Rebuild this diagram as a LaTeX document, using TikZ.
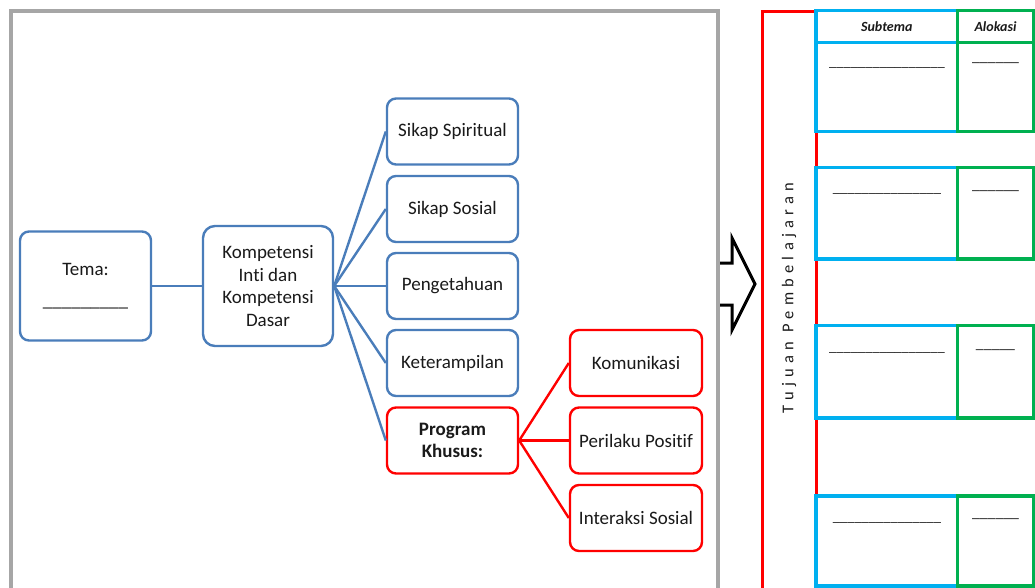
\documentclass[tikz,border=0pt]{standalone}
\usepackage{fontspec}
\setmainfont{Carlito}[Ligatures=NoCommon]
\definecolor{kblue}{HTML}{4A7DBA}
\definecolor{kred}{HTML}{FF0000}
\definecolor{cblue}{HTML}{00B0F0}
\definecolor{cgreen}{HTML}{00B050}
\definecolor{fgray}{HTML}{A6A6A6}
\definecolor{ktext}{HTML}{1A1A1A}
\tikzset{
  boxbase/.style={rectangle, line width=2.4pt, rounded corners=9pt, fill=white,
    inner sep=0pt, align=center, text=ktext, font=\fontsize{19}{22.5}\selectfont},
  bluebox/.style={boxbase, draw=kblue, minimum width=131pt, minimum height=66pt},
  redbox/.style={boxbase, draw=kred, minimum width=132pt, minimum height=66pt},
  blueline/.style={draw=kblue, line width=2.4pt},
  redline/.style={draw=kred, line width=2.4pt},
  frameline/.style={draw=fgray, line width=4pt},
  arrowline/.style={draw=black, line width=3pt, line join=miter},
  bcell/.style={rectangle, draw=cblue, line width=3.2pt, minimum width=141.5pt, inner sep=0pt},
  gcell/.style={rectangle, draw=cgreen, line width=3.4pt, minimum width=76pt, inner sep=0pt},
  headtxt/.style={font=\fontsize{14}{16}\selectfont\bfseries\itshape, text=ktext, inner sep=0pt},
  bdash/.style={anchor=base, inner sep=0pt, text=ktext, font=\fontsize{14.5}{16}\selectfont},
  gdash/.style={anchor=base, inner sep=0pt, text=ktext, font=\fontsize{15.7}{17}\selectfont}
}
\begin{document}
\begin{tikzpicture}[x=1pt,y=-1pt]
\useasboundingbox (0,0) rectangle (1035,587);
% arrow
\draw[arrowline] (718,263) -- (732,263) -- (732,238) -- (755,284) -- (732,330) -- (732,305) -- (718,305);
% gray frame
\draw[frameline] (10.5,592) -- (10.5,10.5) -- (718,10.5) -- (718,592);
% left diagram
\node[bluebox, minimum width=131pt, minimum height=109pt] (tema) at (85.5,286)
  {Tema:\\[9pt]\_\_\_\_\_\_\_\_\_};
\node[bluebox, minimum width=130pt, minimum height=120pt, rounded corners=12pt] (ki) at (268,286)
  {Kompetensi\\Inti dan\\Kompetensi\\Dasar};
\node[bluebox] (sp) at (452.5,131.5) {Sikap Spiritual};
\node[bluebox] (ss) at (452.5,209) {Sikap Sosial};
\node[bluebox] (pg) at (452.5,286) {Pengetahuan};
\node[bluebox] (kt) at (452.5,363) {Keterampilan};
\node[redbox, minimum width=131pt] (pk) at (452.5,440.5) {\bfseries Program\\\bfseries Khusus:};
\node[redbox] (km) at (636,363) {Komunikasi};
\node[redbox] (pp) at (636,440.5) {Perilaku Positif};
\node[redbox] (is) at (636,518) {Interaksi Sosial};
\draw[blueline] (tema.east) -- (ki.west);
\foreach \t in {sp,ss,pg,kt,pk} \draw[blueline] (ki.east) -- (\t.west);
\foreach \t in {km,pp,is} \draw[redline] (pk.east) -- (\t.west);
% red frame
\draw[redline, line width=3pt] (762,592) -- (762,11) -- (816,11) -- (816,592);
\node[rotate=90, text=ktext, font=\fontsize{16.5}{18}\selectfont, inner sep=0pt] (tujuan) at (789,298)
  {\addfontfeature{LetterSpace=32}Tujuan Pembelajaran};
% table
\node[bcell, minimum height=31.8pt] (bh) at (886.75,26.4) {};
\node[bcell, minimum height=89.2pt] (b1) at (886.75,86.9) {};
\node[bcell, minimum height=91.5pt] (b2) at (886.75,213.3) {};
\node[bcell, minimum height=92.5pt] (b3) at (886.75,371.7) {};
\node[bcell, minimum height=90pt] (b4) at (886.75,541) {};
\node[gcell, minimum height=31.8pt] (gh) at (995.5,26.4) {};
\node[gcell, minimum height=89.2pt] (g1) at (995.5,86.9) {};
\node[gcell, minimum height=91.5pt] (g2) at (995.5,213.3) {};
\node[gcell, minimum height=92.5pt] (g3) at (995.5,371.7) {};
\node[gcell, minimum height=90pt] (g4) at (995.5,541) {};
\node[headtxt] (subtema) at (bh.center) {Subtema};
\node[headtxt] (alokasi) at (gh.center) {Alokasi};
\node[bdash] (d1) at (887,66) {\_\_\_\_\_\_\_\_\_\_\_\_\_\_\_\_};
\node[bdash] (d2) at (887,192) {\_\_\_\_\_\_\_\_\_\_\_\_\_\_\_};
\node[bdash] (d3) at (887,351) {\_\_\_\_\_\_\_\_\_\_\_\_\_\_\_\_};
\node[bdash] (d4) at (887,521) {\_\_\_\_\_\_\_\_\_\_\_\_\_\_\_};
\node[gdash] (e1) at (995.5,61) {\_\_\_\_\_\_};
\node[gdash] (e2) at (995.5,189) {\_\_\_\_\_\_};
\node[gdash] (e3) at (995.5,348) {\_\_\_\_\_};
\node[gdash] (e4) at (995.5,517) {\_\_\_\_\_\_};
\end{tikzpicture}
\end{document}
